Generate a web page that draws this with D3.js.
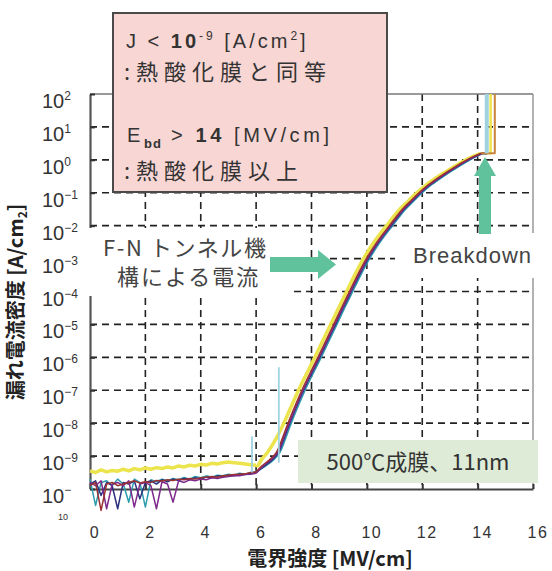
<!DOCTYPE html>
<html><head><meta charset="utf-8">
<script src="https://cdn.jsdelivr.net/npm/d3@7"></script>
<style>body{margin:0;background:#fff}svg{display:block}</style>
</head><body>
<svg id="c" width="552" height="571"></svg>
<script>
// ---------- data ----------
const xTicks = [0, 2, 4, 6, 8, 10, 12, 14, 16];
const yExponents = [2, 1, 0, -1, -2, -3, -4, -5, -6, -7, -8, -9, -10];

// low-field leakage floor (log10 J) at these fields [MV/cm]
const floorField = [0, 0.2, 0.4, 0.6, 0.8, 1.0, 1.2, 1.4, 1.6, 1.8, 2.0, 2.2, 2.4, 2.6, 2.8, 3.0, 3.2, 3.4, 3.6, 3.8, 4.0, 4.2, 4.4, 4.6, 4.8, 5.0, 5.2, 5.4, 5.6, 5.8, 6.0];
const floorYellow  = [-9.45, -9.5, -9.42, -9.48, -9.44, -9.46, -9.4, -9.45, -9.38, -9.42, -9.36, -9.4, -9.35, -9.38, -9.33, -9.36, -9.3, -9.33, -9.28, -9.3, -9.25, -9.27, -9.22, -9.24, -9.2, -9.18, -9.2, -9.22, -9.24, -9.26, -9.28];
const floorTeal    = [-9.7, -10.5, -9.8, -9.75, -9.9, -9.7, -9.85, -10.4, -9.7, -9.8, -10.55, -9.72, -9.78, -9.7, -9.75, -9.68, -9.72, -9.65, -9.7, -9.62, -9.66, -9.6, -9.64, -9.58, -9.6, -9.55, -9.58, -9.52, -9.55, -9.5, -9.48];
const floorNavy    = [-9.85, -9.75, -10.2, -9.8, -9.9, -10.6, -9.8, -9.85, -9.75, -10.3, -9.8, -9.75, -9.85, -9.72, -9.78, -9.7, -9.74, -9.68, -9.72, -9.66, -9.7, -9.64, -9.66, -9.6, -9.62, -9.58, -9.6, -9.55, -9.56, -9.52, -9.5];
const floorPurple  = [-9.8, -9.9, -9.75, -10.6, -9.85, -9.8, -9.9, -9.75, -10.55, -9.85, -9.8, -9.9, -10.6, -9.78, -9.85, -10.4, -9.75, -9.8, -9.72, -9.75, -9.7, -9.72, -9.66, -9.68, -9.64, -9.62, -9.6, -9.6, -9.56, -9.55, -9.52];
const floorDarkred = [-9.9, -9.8, -10.65, -9.85, -9.8, -9.9, -9.85, -9.8, -9.75, -9.82, -9.78, -9.8, -9.74, -9.76, -9.72, -9.74, -9.7, -9.72, -9.68, -9.7, -9.66, -9.64, -9.62, -9.64, -9.6, -9.58, -9.56, -9.55, -9.54, -9.5, -9.48];

// Fowler-Nordheim region: field reached at each current level
const fnLogJ    = [-9.3, -9.1, -8.9, -8.5, -8.0, -7.0, -6.0, -5.0, -4.5, -4.0, -3.5, -3.0, -2.5, -2.0, -1.5, -1.25, -1.0, -0.75, -0.5, -0.25, 0.0, 0.12, 0.2];
const fnYellow  = [6.05, 6.2, 6.4, 6.7, 7.0, 7.53, 8.12, 8.69, 8.98, 9.27, 9.56, 9.88, 10.26, 10.71, 11.19, 11.5, 11.8, 12.16, 12.59, 13.07, 13.58, 13.88, 14.1];
const fnTeal    = [6.35, 6.65, 6.85, 7.05, 7.27, 7.77, 8.35, 8.92, 9.2, 9.49, 9.78, 10.1, 10.48, 10.93, 11.4, 11.7, 12.0, 12.35, 12.77, 13.23, 13.73, 14.0, 14.2];
const fnNavy    = [6.3, 6.6, 6.8, 7.0, 7.22, 7.72, 8.3, 8.87, 9.15, 9.44, 9.73, 10.05, 10.43, 10.88, 11.35, 11.65, 11.95, 12.3, 12.72, 13.18, 13.68, 13.97, 14.17];
const fnPurple  = [6.25, 6.55, 6.76, 6.97, 7.19, 7.69, 8.27, 8.84, 9.12, 9.41, 9.7, 10.02, 10.4, 10.85, 11.32, 11.62, 11.92, 12.27, 12.69, 13.15, 13.65, 13.94, 14.15];
const fnDarkred = [6.2, 6.5, 6.72, 6.93, 7.15, 7.65, 8.23, 8.8, 9.08, 9.37, 9.66, 9.98, 10.36, 10.81, 11.28, 11.58, 11.88, 12.23, 12.65, 13.11, 13.61, 13.9, 14.13];

// breakdown field of each sample and current after breakdown (log10 J)
const seriesNames = ["yellow", "teal", "navy", "purple", "darkred"];
const breakdownField = [14.47, 14.33, 14.33, 14.33, 14.62];
const breakdownLogJ = 2.0;

// isolated current spikes: field, from, to (log10 J)
const spikeField = [5.85, 6.82, 14.33];
const spikeFrom = [-9.5, -9.2, 0.2];
const spikeTo = [-8.4, -6.3, 2.0];

// ---------- styles ----------
const seriesColors = ["#ece44c", "#2d9cae", "#2c3180", "#7e2a8c", "#9a3030"];
const breakdownColors = ["#ece44c", "#2d9cae", "#2c3180", "#7e2a8c", "#c9843c"];
const seriesWidths = [3.5, 1.5, 1.5, 1.5, 1.5];
const floors = [floorYellow, floorTeal, floorNavy, floorPurple, floorDarkred];
const fns = [fnYellow, fnTeal, fnNavy, fnPurple, fnDarkred];

const svg = d3.select("#c");
const x = d3.scaleLinear().domain([0, 16]).range([90, 533]);
const y = d3.scaleLog().domain([1e-10, 1e2]).range([489, 94]);
const p = v => Math.pow(10, v);
const L = 90, R = 533, T = 94, B = 489;

// grid
const grid = svg.append("g").attr("stroke", "#222").attr("stroke-width", 1.6).attr("stroke-dasharray", "7,5");
grid.selectAll("line.h").data(yExponents.filter(e => e < 2 && e > -10)).join("line")
  .attr("x1", L).attr("x2", R).attr("y1", d => y(p(d))).attr("y2", d => y(p(d)));
grid.selectAll("line.v").data(xTicks.filter(t => t > 0 && t < 16)).join("line")
  .attr("class", "v")
  .attr("y1", T).attr("y2", B).attr("x1", d => x(d)).attr("x2", d => x(d));

// frame
svg.append("line").attr("x1", L).attr("x2", R).attr("y1", T).attr("y2", T).attr("stroke", "#777").attr("stroke-width", 1.5);
svg.append("line").attr("x1", R).attr("x2", R).attr("y1", T).attr("y2", B).attr("stroke", "#999").attr("stroke-width", 1.5);

const xAxis = d3.axisBottom(x).tickValues(xTicks).tickSizeInner(-5).tickSizeOuter(0).tickFormat("");
const gx = svg.append("g").attr("transform", `translate(0,${B})`).call(xAxis);
gx.select(".domain").attr("stroke", "#444").attr("stroke-width", 2.2);
gx.selectAll(".tick line").attr("stroke", "#333").attr("stroke-width", 2);

const yAxis = d3.axisLeft(y).tickValues(yExponents.map(p)).tickSizeInner(-5).tickSizeOuter(0).tickFormat("");
const gy = svg.append("g").attr("transform", `translate(${L},0)`).call(yAxis);
gy.select(".domain").attr("stroke", "#555").attr("stroke-width", 2.2);
gy.selectAll(".tick line").attr("stroke", "#333").attr("stroke-width", 2);

// curves
const lineLin = d3.line().x(d => x(d[0])).y(d => y(p(d[1])));
const lineSmooth = d3.line().x(d => x(d[0])).y(d => y(p(d[1]))).curve(d3.curveCatmullRom.alpha(0.5));
const curves = svg.append("g").attr("fill", "none").attr("stroke-linejoin", "round");
seriesNames.forEach((name, i) => {
  const floorPts = floorField.map((f, k) => [f, floors[i][k]]);
  const fnPts = [floorPts[floorPts.length - 1]].concat(fns[i].map((f, k) => [f, fnLogJ[k]]));
  const lastPt = fnPts[fnPts.length - 1];
  const bdPts = [lastPt, [breakdownField[i], lastPt[1]], [breakdownField[i], breakdownLogJ]];
  curves.append("path").datum(floorPts).attr("d", lineLin)
    .attr("stroke", seriesColors[i]).attr("stroke-width", seriesWidths[i]);
  curves.append("path").datum(fnPts).attr("d", lineSmooth)
    .attr("stroke", seriesColors[i]).attr("stroke-width", seriesWidths[i]);
  curves.append("path").datum(bdPts).attr("d", lineLin)
    .attr("stroke", breakdownColors[i]).attr("stroke-width", i === 0 ? 2.5 : 2);
});
svg.append("g").selectAll("line").data(spikeField).join("line")
  .attr("x1", d => x(d)).attr("x2", d => x(d))
  .attr("y1", (d, i) => y(p(spikeFrom[i]))).attr("y2", (d, i) => y(p(spikeTo[i])))
  .attr("stroke", "#9fd3e0").attr("stroke-width", (d, i) => i === 2 ? 4 : 1.8);

// white backgrounds behind annotations
svg.append("rect").attr("x", 86).attr("y", 228).attr("width", 204).attr("height", 68).attr("fill", "#fff");
svg.append("rect").attr("x", 395).attr("y", 233).attr("width", 146).attr("height", 45).attr("fill", "#fff");

// arrows
const green = "#5fc29d";
svg.append("path").attr("fill", green)
  .attr("d", "M270,257 L318,257 L318,250 L336,264.5 L318,279 L318,272 L270,272 Z");
svg.append("path").attr("fill", green)
  .attr("d", "M479,234 L479,176 L474,176 L485,157 L496,176 L491,176 L491,234 Z");

// text style
const txt = (sel) => sel.attr("fill", "#333").attr("font-family", "'Liberation Sans', Arial, 'Noto Sans CJK JP', sans-serif");

// pink box
svg.append("rect").attr("x", 113).attr("y", 13).attr("width", 274).attr("height", 179)
  .attr("fill", "#f8d6d4").attr("stroke", "#4a4a4a").attr("stroke-width", 2);
const cjk = "'Noto Sans CJK JP', sans-serif";
let t1 = svg.append("text").attr("x", 126).attr("y", 48).attr("font-size", 20).attr("letter-spacing", 3).call(txt);
t1.append("tspan").text("J < ");
t1.append("tspan").attr("font-weight", "bold").text("10");
t1.append("tspan").attr("font-size", 12).attr("dy", -8).text("-9");
t1.append("tspan").attr("dy", 8).text(" [A/cm");
t1.append("tspan").attr("font-size", 12).attr("dy", -8).text("2");
t1.append("tspan").attr("dy", 8).text("]");
svg.append("text").attr("x", 124).attr("y", 80).attr("font-size", 22).attr("letter-spacing", 6)
  .call(txt).attr("font-family", cjk).text(":熱酸化膜と同等");
let t3 = svg.append("text").attr("x", 127).attr("y", 142).attr("font-size", 20).attr("letter-spacing", 3.6).call(txt);
t3.append("tspan").text("E");
t3.append("tspan").attr("font-size", 13).attr("font-weight", "bold").attr("letter-spacing", 1).attr("dy", 6).text("bd");
t3.append("tspan").attr("dy", -6).text(" > ");
t3.append("tspan").attr("font-weight", "bold").text("14");
t3.append("tspan").text(" [MV/cm]");
svg.append("text").attr("x", 124).attr("y", 179).attr("font-size", 22).attr("letter-spacing", 6)
  .call(txt).attr("font-family", cjk).text(":熱酸化膜以上");

// F-N label
svg.append("text").attr("x", 103).attr("y", 256).attr("font-size", 22).attr("letter-spacing", 1.6)
  .call(txt).attr("fill", "#444").attr("font-family", cjk).text("F-N トンネル機");
svg.append("text").attr("x", 117).attr("y", 285).attr("font-size", 22).attr("letter-spacing", 2)
  .call(txt).attr("fill", "#444").attr("font-family", cjk).text("構による電流");

// Breakdown label
svg.append("text").attr("x", 413).attr("y", 263).attr("font-size", 22).attr("letter-spacing", 1)
  .call(txt).attr("fill", "#444").text("Breakdown");

// green box
svg.append("rect").attr("x", 298).attr("y", 440).attr("width", 240).attr("height", 43).attr("fill", "#deebd6");
svg.append("text").attr("x", 418).attr("y", 470).attr("font-size", 22).attr("text-anchor", "middle")
  .call(txt).attr("font-family", cjk).text("500℃成膜、11nm");

// x tick labels
svg.append("g").selectAll("text").data(xTicks).join("text")
  .attr("x", d => x(d) + 5).attr("y", 538).attr("text-anchor", "middle")
  .attr("font-size", 16).attr("letter-spacing", 1.5).call(txt).text(d => d);

// y tick labels
const gl = svg.append("g");
yExponents.forEach(e => {
  const yy = y(p(e)) + 14;
  const t = gl.append("text").attr("x", 42).attr("y", yy).attr("font-size", 20).call(txt);
  t.append("tspan").text("10");
  if (e === -10) {
    t.append("tspan").attr("font-size", 12).attr("dy", -9).text("−");
    gl.append("text").attr("x", 58).attr("y", yy + 17).attr("font-size", 9).call(txt).text("10");
  } else {
    t.append("tspan").attr("font-size", 12).attr("dy", -8).text(e < 0 ? "−" + (-e) : e);
  }
});

// axis titles
const xt = svg.append("text").attr("x", 330).attr("y", 566).attr("text-anchor", "middle")
  .attr("font-size", 20).attr("font-weight", "bold").call(txt).attr("fill", "#222").attr("font-family", cjk);
xt.text("電界強度 [MV/cm]");
const yt = svg.append("text").attr("transform", "translate(23,302) rotate(-90)").attr("text-anchor", "middle")
  .attr("font-size", 20).attr("font-weight", "bold").call(txt).attr("fill", "#222").attr("font-family", cjk);
yt.append("tspan").text("漏れ電流密度 [A/cm");
yt.append("tspan").attr("font-size", 12).attr("dy", 4).text("2");
yt.append("tspan").attr("dy", -4).text("]");
</script>
</body></html>
